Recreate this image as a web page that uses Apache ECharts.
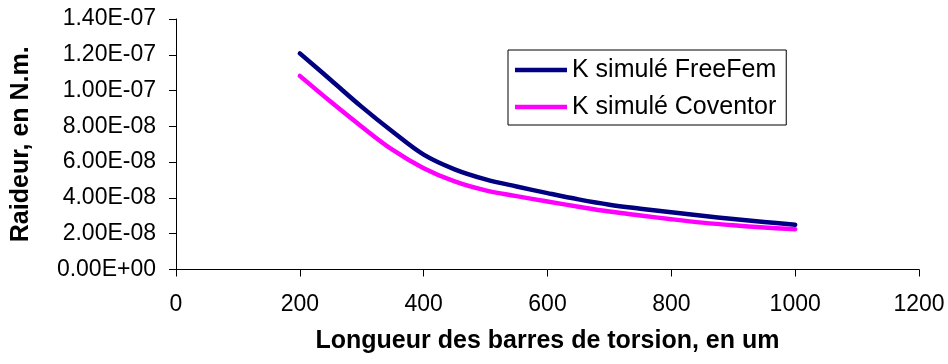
<!DOCTYPE html>
<html>
<head>
<meta charset="utf-8">
<script src="https://cdn.jsdelivr.net/npm/echarts@6/dist/echarts.min.js"></script>
<style>
html,body{margin:0;padding:0;background:#fff;}
#c{width:948px;height:364px;}
</style>
</head>
<body>
<div id="c"></div>
<script>
const xValues = [200, 250, 300, 350, 400, 450, 500, 550, 600, 650, 700, 750, 800, 850, 900, 950, 1000];
const freeFem = [1.208e-7, 1.059e-7, 9.09e-8, 7.70e-8, 6.42e-8, 5.60e-8, 5.04e-8, 4.64e-8, 4.27e-8, 3.92e-8, 3.62e-8, 3.40e-8, 3.20e-8, 3.00e-8, 2.82e-8, 2.66e-8, 2.50e-8];
const coventor = [1.082e-7, 9.37e-8, 7.98e-8, 6.68e-8, 5.66e-8, 4.92e-8, 4.42e-8, 4.10e-8, 3.80e-8, 3.51e-8, 3.24e-8, 3.02e-8, 2.81e-8, 2.62e-8, 2.47e-8, 2.35e-8, 2.25e-8];
const seriesNames = ['K simulé FreeFem', 'K simulé Coventor'];
const xTitle = 'Longueur des barres de torsion, en um';
const yTitle = 'Raideur, en N.m.';

function fmtSci(v) {
  if (v === 0) return '0.00E+00';
  let e = Math.floor(Math.log10(Math.abs(v)) + 1e-9);
  let m = v / Math.pow(10, e);
  if (Math.abs(m) >= 9.995) { m /= 10; e += 1; }
  const sign = e < 0 ? '-' : '+';
  const ae = Math.abs(e);
  return m.toFixed(2) + 'E' + sign + (ae < 10 ? '0' : '') + ae;
}
function pairs(ys) { return xValues.map((x, i) => [x, ys[i]]); }

const FONT = 'Arial, "Liberation Sans", sans-serif';
const chart = echarts.init(document.getElementById('c'), null, {renderer: 'canvas'});
chart.setOption({
  animation: false,
  backgroundColor: '#fff',
  grid: {left: 176, right: 29, top: 19, bottom: 94.5, containLabel: false},
  legend: {
    orient: 'vertical',
    left: 508, top: 50,
    padding: [7.5, 10, 5.5, 7],
    itemGap: 12,
    itemWidth: 52, itemHeight: 4.5,
    icon: 'rect',
    borderColor: '#000', borderWidth: 1,
    backgroundColor: '#fff',
    textStyle: {fontFamily: FONT, fontSize: 25, color: '#000', lineHeight: 25},
    data: seriesNames
  },
  xAxis: {
    type: 'value', min: 0, max: 1200, interval: 200,
    name: xTitle, nameLocation: 'middle', nameGap: 59,
    nameTextStyle: {fontFamily: FONT, fontSize: 25, fontWeight: 'bold', color: '#000'},
    axisLine: {show: true, onZero: false, lineStyle: {color: '#000', width: 1}},
    axisTick: {show: true, length: 7, inside: false, lineStyle: {color: '#000'}},
    axisLabel: {fontFamily: FONT, fontSize: 23, color: '#000', margin: 24, formatter: v => String(v)},
    splitLine: {show: false}
  },
  yAxis: {
    type: 'value', min: 0, max: 1.4e-7, interval: 2e-8,
    name: yTitle, nameLocation: 'middle', nameGap: 142, nameRotate: 90,
    nameTextStyle: {fontFamily: FONT, fontSize: 25, fontWeight: 'bold', color: '#000'},
    axisLine: {show: true, lineStyle: {color: '#000', width: 1}},
    axisTick: {show: true, length: 7, inside: false, lineStyle: {color: '#000'}},
    axisLabel: {fontFamily: FONT, fontSize: 23, color: '#000', margin: 20, formatter: fmtSci},
    splitLine: {show: false}
  },
  series: [
    {name: seriesNames[0], type: 'line', data: pairs(freeFem), smooth: 0.35, showSymbol: false,
     lineStyle: {color: '#000080', width: 4.5, cap: 'round', join: 'round'}, itemStyle: {color: '#000080'}},
    {name: seriesNames[1], type: 'line', data: pairs(coventor), smooth: 0.35, showSymbol: false,
     lineStyle: {color: '#FF00FF', width: 4.5, cap: 'round', join: 'round'}, itemStyle: {color: '#FF00FF'}}
  ]
});
</script>
</body>
</html>
